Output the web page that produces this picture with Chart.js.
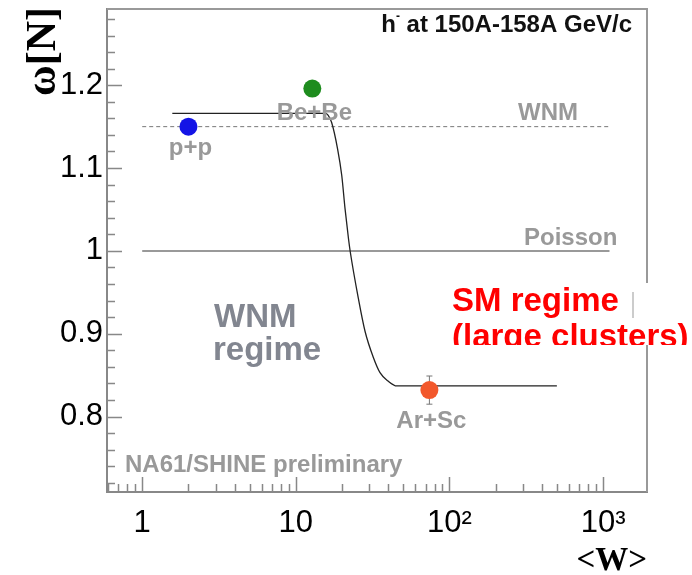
<!DOCTYPE html>
<html>
<head>
<meta charset="utf-8">
<script src="https://cdn.jsdelivr.net/npm/chart.js@4"></script>
<style>
  body { margin: 0; background: #fff; }
  #c { display: block; }
</style>
</head>
<body>
<canvas id="c" width="692" height="575"></canvas>
<script>
// measured points
const systems = ['p+p', 'Be+Be', 'Ar+Sc'];
const meanW = [2.0, 12.8, 74];
const omegaN = [1.150, 1.196, 0.832];
const omegaErr = [0.004, 0.006, 0.017];

// fit curve
const fitW = [1.57, 15.5, 16.2, 17.1, 18.7, 19.9, 20.9, 22.0, 22.6, 25.5, 28.2, 32.0, 35.3, 39.8, 45.4, 500];
const fitOmega = [1.166, 1.166, 1.164, 1.155, 1.123, 1.091, 1.051, 1.015, 0.999, 0.943, 0.903, 0.871, 0.853, 0.843, 0.837, 0.837];

// reference levels
const refW = [1, 1100];
const wnmLevel = [1.15, 1.15];
const poissonLevel = [1.0, 1.0];

// axes
const xTickVals = [1, 10, 100, 1000];
const xTickLabels = ['1', '10', '10²', '10³'];
const yTickVals = [0.8, 0.9, 1.0, 1.1, 1.2];
const yTickLabels = ['0.8', '0.9', '1', '1.1', '1.2'];

const pointColors = ['#1414e6', '#1e8c1e', '#f2582c'];
const SANS = "'Liberation Sans', Arial, sans-serif";
const SERIF = "'Liberation Serif', 'Times New Roman', serif";

const toXY = (xs, ys) => xs.map((x, i) => ({ x: x, y: ys[i] }));

const decorPlugin = {
    id: 'decor',
    beforeDatasetsDraw(chart) {
        const c = chart.ctx;
        const xs = chart.scales.x, ys = chart.scales.y;
        c.save();
        c.strokeStyle = '#777';
        c.lineWidth = 1;
        meanW.forEach((w, i) => {
            const px = xs.getPixelForValue(w);
            const y1 = ys.getPixelForValue(omegaN[i] + omegaErr[i]);
            const y2 = ys.getPixelForValue(omegaN[i] - omegaErr[i]);
            c.beginPath();
            c.moveTo(px, y1); c.lineTo(px, y2);
            c.moveTo(px - 3, y1); c.lineTo(px + 3, y1);
            c.moveTo(px - 3, y2); c.lineTo(px + 3, y2);
            c.stroke();
        });
        c.restore();
    },
    afterDraw(chart) {
        const c = chart.ctx;
        const a = chart.chartArea;
        const xs = chart.scales.x, ys = chart.scales.y;
        c.save();

        // top and right frame
        c.strokeStyle = '#999';
        c.lineWidth = 2;
        c.beginPath();
        c.moveTo(a.left, a.top); c.lineTo(a.right, a.top); c.lineTo(a.right, a.bottom);
        c.stroke();

        // inward ticks
        c.strokeStyle = '#888';
        c.lineWidth = 1.5;
        c.beginPath();
        for (let k = 36; k <= 64; k++) {
            const v = k / 50;
            const major = k % 5 === 0;
            const py = Math.round(ys.getPixelForValue(v)) + 0.5;
            c.moveTo(a.left, py); c.lineTo(a.left + (major ? 15 : 8), py);
        }
        for (let e = -1; e <= 3; e++) {
            for (let m = 1; m <= 9; m++) {
                const v = m * Math.pow(10, e);
                if (v < xs.min || v > xs.max) continue;
                const px = Math.round(xs.getPixelForValue(v)) + 0.5;
                c.moveTo(px, a.bottom); c.lineTo(px, a.bottom - (m === 1 ? 15 : 8));
            }
        }
        c.stroke();

        // gray labels
        c.fillStyle = '#999';
        c.font = 'bold 24px ' + SANS;
        c.textBaseline = 'alphabetic';
        c.textAlign = 'left';
        c.fillText('WNM', 518, 120);
        c.fillText('Poisson', 524, 245);
        c.fillText('NA61/SHINE preliminary', 125, 472);
        c.textAlign = 'center';
        const labelDy = [28, 31, 38];
        systems.forEach((s, i) => {
            c.fillText(s, xs.getPixelForValue(meanW[i]) + 2, ys.getPixelForValue(omegaN[i]) + labelDy[i]);
        });

        c.fillStyle = '#828690';
        c.font = 'bold 33px ' + SANS;
        c.textAlign = 'left';
        c.fillText('WNM', 214, 327);
        c.fillText('regime', 213, 360);

        // pasted box with red text
        c.fillStyle = '#fff';
        c.fillRect(442, 283, 250, 62);
        c.save();
        c.beginPath();
        c.rect(442, 283, 250, 62);
        c.clip();
        c.fillStyle = '#ff0000';
        c.font = 'bold 33px ' + SANS;
        c.fillText('SM regime', 452, 311);
        c.fillText('(large clusters)', 452, 347);
        c.restore();
        c.strokeStyle = '#bbb';
        c.lineWidth = 1.5;
        c.beginPath();
        c.moveTo(633, 292); c.lineTo(633, 318);
        c.stroke();

        // header
        c.fillStyle = '#111';
        c.font = 'bold 24px ' + SANS;
        c.textAlign = 'right';
        const rest = ' at 150A-158A GeV/c';
        c.fillText(rest, 632, 32);
        const wr = c.measureText(rest).width;
        c.font = 'bold 12px ' + SANS;
        const wm = c.measureText('-').width;
        c.fillText('-', 632 - wr, 20);
        c.font = 'bold 24px ' + SANS;
        c.fillText('h', 632 - wr - wm, 32);

        // axis titles
        c.fillStyle = '#000';
        c.font = 'bold 33px ' + SERIF;
        c.textAlign = 'right';
        c.fillText('<W>', 647, 570);
        c.save();
        c.translate(55, 7);
        c.rotate(-Math.PI / 2);
        c.font = 'bold 42px ' + SERIF;
        c.textAlign = 'right';
        c.fillText('ω[N]', 0, 0);
        c.restore();

        c.restore();
    }
};

new Chart(document.getElementById('c'), {
    type: 'scatter',
    data: {
        datasets: [
            {
                data: toXY(meanW, omegaN),
                pointRadius: 9,
                pointBackgroundColor: pointColors,
                pointBorderColor: pointColors,
                pointBorderWidth: 0
            },
            {
                data: toXY(fitW, fitOmega),
                showLine: true,
                pointRadius: 0,
                borderColor: '#222',
                borderWidth: 1.3,
                cubicInterpolationMode: 'monotone'
            },
            {
                data: toXY(refW, wnmLevel),
                showLine: true,
                pointRadius: 0,
                borderColor: '#777',
                borderWidth: 1,
                borderDash: [4, 3]
            },
            {
                data: toXY(refW, poissonLevel),
                showLine: true,
                pointRadius: 0,
                borderColor: '#999',
                borderWidth: 2
            }
        ]
    },
    options: {
        responsive: false,
        animation: false,
        layout: { padding: { top: 6, right: 45, left: 0, bottom: 0 } },
        plugins: { legend: { display: false }, tooltip: { enabled: false } },
        scales: {
            x: {
                type: 'logarithmic',
                min: 0.59,
                max: 1930,
                afterFit: s => {
                    s.height = 83;
                    s.paddingLeft = 0; s.paddingRight = 0;
                },
                afterBuildTicks: s => { s.ticks = xTickVals.map(v => ({ value: v })); },
                grid: { display: false, drawTicks: false },
                border: { color: '#888', width: 2 },
                ticks: {
                    autoSkip: false,
                    maxRotation: 0,
                    padding: 13,
                    color: '#000',
                    font: { family: SANS, size: 31 },
                    callback: v => xTickLabels[xTickVals.indexOf(v)] || ''
                }
            },
            y: {
                min: 0.709,
                max: 1.292,
                afterFit: s => {
                    s.width = 107;
                    s.paddingTop = 0; s.paddingBottom = 0;
                },
                afterBuildTicks: s => { s.ticks = yTickVals.map(v => ({ value: v })); },
                grid: { display: false, drawTicks: false },
                border: { color: '#888', width: 2 },
                ticks: {
                    autoSkip: false,
                    padding: 4,
                    color: '#000',
                    font: { family: SANS, size: 31 },
                    callback: v => {
                        const i = yTickVals.findIndex(t => Math.abs(t - v) < 1e-6);
                        return i >= 0 ? yTickLabels[i] : '';
                    }
                }
            }
        }
    },
    plugins: [decorPlugin]
});
</script>
</body>
</html>
